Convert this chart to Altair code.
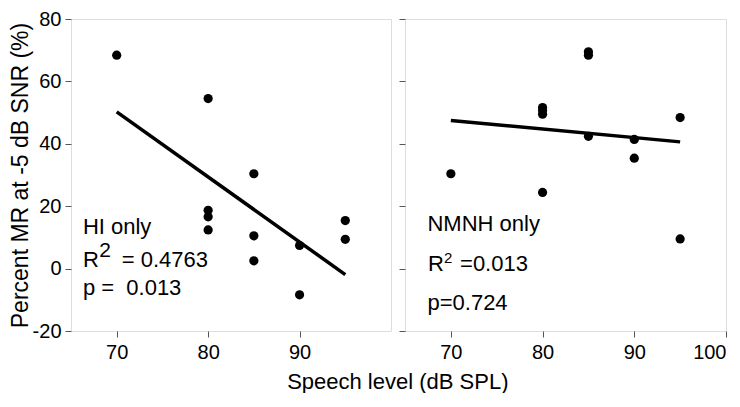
import altair as alt
import pandas as pd

FONT = "Liberation Sans"

# ---- data ----
hi_x = [70, 80, 80, 80, 80, 85, 85, 85, 90, 90, 95, 95]
hi_y = [68.4, 54.5, 18.7, 16.6, 12.4, 30.4, 10.5, 2.5, 7.4, -8.4, 15.4, 9.4]

nm_x = [70, 80, 80, 80, 80, 85, 85, 85, 90, 90, 95, 95]
nm_y = [30.4, 24.4, 51.6, 50.7, 49.5, 69.5, 68.4, 42.4, 41.4, 35.4, 48.4, 9.5]

x_domain = [65, 100]
y_domain = [-20, 80]
y_ticks = [-20, 0, 20, 40, 60, 80]
x_ticks_left = [70, 80, 90]
x_ticks_right = [70, 80, 90, 100]

# annotation text (positions in data units)
hi_text = ["HI only", "R", "= 0.4763", "p =\u00a0 0.013"]
hi_text_x = [66.3, 66.3, 70.55, 66.3]
hi_text_y = [11.2, 0.4, 0.4, -8.4]
hi_sup = ["2"]
hi_sup_x = [68.1]
hi_sup_y = [3.7]

nm_text = ["NMNH only", "R", "=0.013", "p=0.724"]
nm_text_x = [67.45, 67.5, 71.0, 67.45]
nm_text_y = [12.2, -0.8, -0.8, -13.3]
nm_sup = ["2"]
nm_sup_x = [69.26]
nm_sup_y = [1.8]

AXIS_GRAY = "#555555"
W_LEFT, W_RIGHT, H = 320, 321, 312


def panel(xs, ys, texts, tx, ty, sups, sx, sy, sup_size, x_ticks, show_y_labels, width):
    df = pd.DataFrame({"x": xs, "y": ys})
    xsc = alt.Scale(domain=x_domain, nice=False, zero=False)
    ysc = alt.Scale(domain=y_domain, nice=False, zero=False)
    xax = alt.Axis(values=x_ticks, title=None, grid=False, domain=False,
                   tickColor=AXIS_GRAY, tickSize=6, labelFontSize=20, labelFont=FONT,
                   labelColor="black", labelPadding=5)
    if show_y_labels:
        yax = alt.Axis(values=y_ticks, title="Percent MR at -5 dB SNR (%)", grid=False,
                       domain=False, tickColor=AXIS_GRAY, tickSize=6, labelFontSize=20,
                       labelFont=FONT, labelColor="black", labelPadding=4,
                       labelExpr="'' + datum.value",
                       titleFontSize=23, titleFont=FONT, titleFontWeight="normal",
                       titleColor="black", titlePadding=0)
    else:
        yax = alt.Axis(values=y_ticks, title=None, grid=False, domain=False,
                       tickColor=AXIS_GRAY, tickSize=6, labels=False)
    base = alt.Chart(df)
    pts = base.mark_circle(size=85, color="black", opacity=1).encode(
        x=alt.X("x:Q", scale=xsc, axis=xax),
        y=alt.Y("y:Q", scale=ysc, axis=yax),
    )
    line = base.transform_regression("x", "y").mark_line(color="black", strokeWidth=3.5).encode(
        x=alt.X("x:Q", scale=xsc), y=alt.Y("y:Q", scale=ysc)
    )
    tdf = pd.DataFrame({"x": tx, "y": ty, "t": texts})
    txt = alt.Chart(tdf).mark_text(align="left", baseline="alphabetic", fontSize=22,
                                   font=FONT, color="black").encode(
        x=alt.X("x:Q", scale=xsc), y=alt.Y("y:Q", scale=ysc), text="t:N"
    )
    sdf = pd.DataFrame({"x": sx, "y": sy, "t": sups})
    sup = alt.Chart(sdf).mark_text(align="left", baseline="alphabetic", fontSize=sup_size,
                                   font=FONT, color="black").encode(
        x=alt.X("x:Q", scale=xsc), y=alt.Y("y:Q", scale=ysc), text="t:N"
    )
    return alt.layer(pts, line, txt, sup).properties(width=width, height=H)


left = panel(hi_x, hi_y, hi_text, hi_text_x, hi_text_y, hi_sup, hi_sup_x, hi_sup_y, 21,
             x_ticks_left, True, W_LEFT)
right = panel(nm_x, nm_y, nm_text, nm_text_x, nm_text_y, nm_sup, nm_sup_x, nm_sup_y, 15,
              x_ticks_right, False, W_RIGHT)

chart = alt.hconcat(left, right, spacing=6).properties(
    title=alt.TitleParams("Speech level (dB SPL)", orient="bottom", anchor="middle",
                          fontSize=22, font=FONT, fontWeight="normal", color="black",
                          offset=9, dx=30),
    padding={"left": 0, "top": 0, "right": 0, "bottom": 0},
).configure_view(stroke=AXIS_GRAY, strokeWidth=1.2).configure(background="white")

chart.save("out.html", embed_options={"renderer": "svg", "actions": False})
